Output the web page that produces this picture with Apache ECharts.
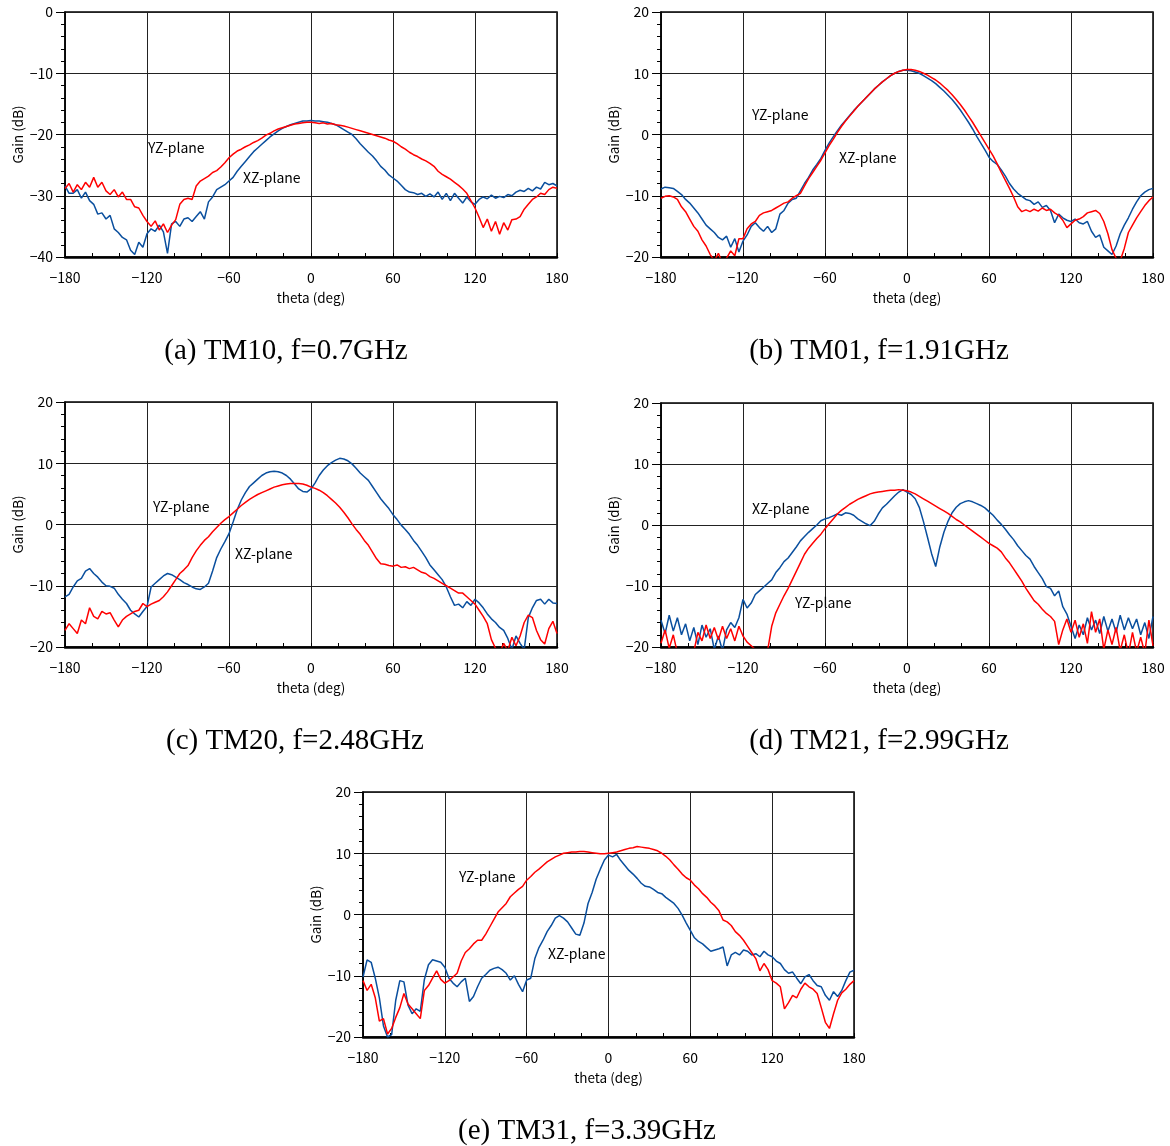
<!DOCTYPE html>
<html>
<head>
<meta charset="utf-8">
<script src="https://cdn.jsdelivr.net/npm/echarts@6/dist/echarts.min.js"></script>
<style>
html, body { margin: 0; padding: 0; background: #fff; }
#main { width: 1170px; height: 1146px; }
</style>
</head>
<body>
<div id="main"></div>
<script>
// 角度 (deg)，3度ごとに読み取り
var theta = [];
for (var t = -180; t <= 180; t += 3) theta.push(t);

// (a) TM10, f=0.7GHz
var aXZ = [
  -28.4, -29.6, -29.6, -29.0, -30.4, -29.4, -30.8, -31.4, -33.0, -32.8,
  -33.8, -33.2, -35.4, -36.0, -36.8, -37.2, -38.9, -39.6, -37.6, -38.4,
  -36.2, -35.4, -35.8, -34.8, -35.9, -39.4, -34.6, -34.2, -35.0, -33.8,
  -33.6, -34.2, -33.4, -32.6, -33.8, -31.0, -30.2, -29.0, -28.6, -28.2,
  -27.6, -27.0, -26.0, -25.2, -24.4, -23.6, -22.8, -22.2, -21.6, -21.0,
  -20.4, -19.9, -19.4, -19.0, -18.7, -18.4, -18.2, -18.0, -17.8, -17.8,
  -17.7, -17.8, -17.8, -17.9, -18.0, -18.2, -18.4, -18.8, -19.2, -19.6,
  -20.0, -20.7, -21.5, -22.2, -22.9, -23.5, -24.3, -25.2, -25.8, -26.6,
  -27.1, -27.6, -28.3, -29.0, -29.4, -29.5, -29.8, -29.6, -30.1, -29.7,
  -30.2, -29.4, -30.6, -29.6, -30.8, -29.6, -30.4, -31.2, -30.2, -31.0,
  -31.4, -30.6, -30.2, -30.5, -29.9, -30.4, -30.1, -30.3, -29.8, -30.0,
  -29.4, -29.1, -29.3, -28.8, -29.2, -28.6, -28.9, -27.8, -28.2, -28.0,
  -28.4
];
var aYZ = [
  -28.8, -28.0, -29.4, -28.2, -29.0, -27.8, -28.6, -27.0, -28.6, -27.8,
  -29.2, -29.8, -29.0, -30.2, -29.4, -30.6, -30.6, -31.8, -32.0, -33.2,
  -34.2, -35.0, -34.1, -35.6, -34.6, -36.0, -34.8, -33.9, -31.4, -30.6,
  -30.4, -30.6, -28.4, -27.6, -27.2, -26.8, -26.2, -25.9, -25.3, -24.6,
  -23.8, -23.2, -22.7, -22.4, -22.0, -21.7, -21.3, -21.0, -20.6, -20.1,
  -19.8, -19.4, -19.1, -18.9, -18.7, -18.5, -18.3, -18.2, -18.1, -18.0,
  -18.0, -18.1, -18.2, -18.1, -18.3, -18.2, -18.4, -18.5, -18.6, -18.8,
  -19.0, -19.2, -19.4, -19.6, -19.8, -20.0, -20.2, -20.4, -20.6, -20.9,
  -21.1, -21.5, -22.0, -22.4, -22.9, -23.3, -23.6, -24.0, -24.3, -24.7,
  -25.2, -26.0, -26.5, -26.9, -27.3, -27.8, -28.3, -28.9, -29.6, -30.8,
  -32.0, -33.5, -35.2, -33.8, -35.8, -34.2, -36.3, -34.4, -35.6, -33.9,
  -33.8, -33.4, -32.2, -31.4, -30.6, -30.2, -29.6, -29.8, -29.0, -28.6,
  -28.8
];

// (b) TM01, f=1.91GHz
var bXZ = [
  -8.9, -8.6, -8.7, -8.8, -9.3, -9.8, -10.6, -11.2, -12.0, -12.8,
  -13.8, -14.8, -15.4, -16.0, -16.8, -17.2, -16.6, -18.4, -17.0, -19.2,
  -17.4, -16.4, -15.0, -14.4, -15.2, -15.8, -15.0, -16.0, -15.4, -13.0,
  -12.4, -11.2, -10.6, -10.4, -9.2, -8.0, -7.0, -5.8, -4.9, -3.9,
  -2.6, -1.4, -0.4, 0.6, 1.5, 2.3, 3.1, 3.9, 4.6, 5.3,
  6.0, 6.7, 7.4, 8.0, 8.6, 9.1, 9.6, 10.0, 10.3, 10.5,
  10.5, 10.4, 10.2, 10.0, 9.6, 9.2, 8.8, 8.3, 7.7, 7.1,
  6.4, 5.7, 4.9, 4.0, 3.0, 2.0, 0.9, -0.3, -1.4, -2.5,
  -3.7, -4.4, -4.9, -5.8, -6.8, -8.0, -8.9, -9.6, -10.1, -10.6,
  -10.8, -11.4, -11.0, -11.9, -11.6, -12.4, -14.4, -13.0, -13.6, -14.0,
  -14.2, -13.8, -14.4, -14.6, -14.2, -15.8, -16.8, -16.4, -18.4, -19.0,
  -19.6, -18.2, -16.2, -14.8, -13.6, -12.2, -11.0, -10.0, -9.4, -9.0,
  -8.8
];
var bYZ = [
  -10.4, -10.1, -10.0, -10.2, -10.6, -11.8, -12.6, -13.8, -15.0, -15.8,
  -17.2, -18.2, -19.6, -20.6, -19.4, -21.0, -20.2, -19.0, -19.8, -17.0,
  -17.0, -15.4, -14.6, -14.2, -13.2, -12.8, -12.6, -12.4, -12.0, -11.6,
  -11.2, -11.0, -10.4, -10.0, -9.6, -8.4, -7.2, -6.2, -5.2, -4.2,
  -3.0, -1.8, -0.8, 0.3, 1.3, 2.2, 3.0, 3.8, 4.6, 5.3,
  6.0, 6.7, 7.4, 8.0, 8.6, 9.1, 9.6, 10.0, 10.3, 10.5,
  10.6, 10.6, 10.5, 10.3, 10.0, 9.7, 9.3, 8.9, 8.4, 7.8,
  7.2, 6.5, 5.7, 4.9, 4.0, 3.0, 2.0, 0.9, -0.2, -1.3,
  -2.4, -3.5, -4.8, -6.2, -7.5, -8.8, -10.2, -11.8, -12.6, -12.3,
  -12.6, -12.2, -12.5, -12.0, -12.4, -12.2, -12.8, -13.2, -14.0, -15.2,
  -14.6, -14.0, -13.8, -13.4, -12.8, -12.6, -12.4, -12.9, -14.2, -16.2,
  -18.8, -20.2, -20.6, -18.6, -16.0, -14.8, -13.6, -12.6, -11.6, -10.8,
  -10.2
];

// (c) TM20, f=2.48GHz
var cXZ = [
  -11.8, -11.4, -10.2, -9.2, -8.8, -7.6, -7.2, -8.0, -8.6, -9.4,
  -10.0, -10.1, -10.4, -11.4, -12.2, -12.9, -14.0, -14.6, -15.1, -14.2,
  -13.4, -10.2, -9.6, -9.0, -8.4, -8.0, -8.2, -8.6, -9.0, -9.5,
  -9.8, -10.2, -10.5, -10.6, -10.2, -9.6, -7.6, -5.4, -4.0, -2.8,
  -1.5, 0.4, 2.4, 4.0, 5.2, 6.2, 6.8, 7.4, 8.0, 8.4,
  8.6, 8.7, 8.6, 8.4, 8.0, 7.4, 6.6, 5.8, 5.4, 5.3,
  5.8, 6.8, 8.0, 8.9, 9.6, 10.1, 10.5, 10.8, 10.7, 10.4,
  9.9, 9.2, 8.4, 7.8, 7.2, 6.2, 5.2, 4.2, 3.4, 2.6,
  1.6, 0.8, -0.1, -0.8, -1.6, -2.6, -3.4, -4.4, -5.4, -6.6,
  -7.4, -8.2, -9.0, -10.2, -11.8, -13.2, -13.0, -13.6, -12.6, -13.2,
  -12.2, -12.8, -13.6, -14.6, -15.4, -16.0, -16.8, -17.3, -18.6, -20.4,
  -18.2, -19.4, -20.4, -15.2, -13.6, -12.4, -12.2, -13.0, -12.2, -12.8,
  -12.9
];
var cYZ = [
  -17.3, -16.2, -17.0, -17.8, -15.6, -16.2, -13.6, -15.0, -15.4, -14.2,
  -14.6, -14.4, -15.6, -16.7, -15.6, -15.0, -14.6, -14.2, -14.0, -12.9,
  -13.4, -13.0, -12.7, -12.4, -11.8, -11.0, -10.0, -9.0, -8.0, -7.4,
  -6.7, -5.4, -4.3, -3.4, -2.6, -2.0, -1.2, -0.5, 0.2, 0.8,
  1.3, 1.9, 2.5, 3.1, 3.6, 4.1, 4.5, 4.9, 5.2, 5.5,
  5.8, 6.1, 6.3, 6.5, 6.6, 6.7, 6.7, 6.7, 6.6, 6.4,
  6.1, 5.9, 5.6, 5.2, 4.7, 4.1, 3.5, 2.8, 2.0, 1.1,
  0.1, -0.8, -1.6, -2.6, -3.4, -4.5, -5.6, -6.4, -6.5, -6.7,
  -6.8, -6.6, -7.0, -6.9, -7.2, -7.0, -7.4, -7.8, -8.0, -8.5,
  -8.8, -9.2, -9.6, -10.0, -10.4, -10.8, -11.2, -11.2, -11.8, -12.4,
  -13.0, -14.0, -15.0, -16.2, -18.8, -20.2, -21.0, -19.4, -20.6, -18.4,
  -19.8, -18.2, -16.0, -14.8, -15.2, -17.3, -18.8, -19.5, -17.0, -15.8,
  -17.8
];

// (d) TM21, f=2.99GHz
var dXZ = [
  -15.6, -17.8, -14.8, -17.4, -15.2, -18.0, -16.2, -19.0, -16.8, -19.6,
  -16.4, -18.4, -17.0, -20.4, -18.2, -20.6, -17.2, -16.0, -16.8, -15.2,
  -12.2, -13.6, -12.8, -11.4, -10.8, -10.2, -9.6, -9.0, -7.8, -7.0,
  -6.0, -5.4, -4.5, -3.6, -2.6, -1.9, -1.2, -0.6, 0.0, 0.7,
  1.0, 1.2, 1.5, 1.8, 1.6, 2.0, 1.9, 1.6, 1.0, 0.6,
  0.2, -0.1, 0.6, 1.8, 2.8, 3.4, 4.1, 4.8, 5.4, 5.8,
  5.4, 5.0, 4.3, 2.9, 0.6, -2.0, -4.7, -6.8, -3.6, -1.2,
  0.6, 2.0, 2.9, 3.5, 3.8, 4.0, 3.8, 3.5, 3.2, 2.8,
  2.2, 1.6, 0.8, 0.1, -0.7, -1.6, -2.4, -3.4, -4.2, -5.0,
  -5.6, -6.8, -7.8, -8.8, -10.1, -10.4, -11.6, -10.8, -13.4, -14.6,
  -16.6, -18.6, -16.4, -18.0, -15.2, -17.2, -15.6, -17.8, -15.0, -17.4,
  -15.4, -17.6, -14.8, -17.2, -15.2, -17.0, -15.4, -18.0, -16.0, -18.6,
  -15.0
];
var dYZ = [
  -19.4, -17.2, -20.2, -18.0, -21.0, -21.5, -21.0, -21.4, -20.8, -17.6,
  -19.0, -16.4, -18.6, -16.8, -18.8, -16.6, -18.6, -17.0, -19.0, -16.6,
  -18.2, -19.2, -19.8, -20.4, -21.2, -21.0, -20.6, -16.6, -14.4, -13.0,
  -11.6, -10.4, -9.0, -7.6, -6.2, -4.8, -3.8, -3.0, -2.2, -1.5,
  -0.6, 0.2, 1.0, 1.8, 2.4, 2.9, 3.4, 3.8, 4.2, 4.5,
  4.8, 5.1, 5.3, 5.4, 5.5, 5.6, 5.7, 5.7, 5.8, 5.7,
  5.6, 5.4, 5.1, 4.7, 4.3, 3.9, 3.5, 3.1, 2.7, 2.3,
  1.9, 1.4, 0.9, 0.5, 0.0, -0.5, -1.0, -1.5, -2.0, -2.5,
  -3.0, -3.4, -3.8, -4.4, -5.4, -6.2, -7.2, -8.2, -9.2, -10.4,
  -11.4, -12.4, -13.0, -13.8, -14.5, -15.0, -15.8, -19.6, -17.2, -15.4,
  -17.6, -15.6, -18.4, -16.2, -19.4, -14.2, -17.6, -15.4, -20.4, -17.2,
  -19.6, -16.8, -20.6, -18.0, -21.2, -17.6, -20.8, -18.4, -21.0, -15.6,
  -19.8
];

// (e) TM31, f=3.39GHz
var eXZ = [
  -10.2, -7.4, -7.8, -10.4, -13.6, -18.2, -20.0, -19.6, -14.0, -10.8,
  -11.0, -14.8, -16.2, -15.4, -15.8, -10.6, -8.2, -7.4, -7.6, -7.8,
  -8.6, -10.4, -11.2, -11.8, -11.0, -10.4, -14.2, -13.4, -11.8, -10.4,
  -9.8, -9.1, -8.8, -8.6, -9.0, -9.6, -10.7, -10.0, -11.4, -12.6,
  -10.7, -10.4, -7.2, -5.4, -4.2, -2.8, -1.8, -0.6, -0.2, -0.6,
  -1.2, -2.2, -3.2, -3.4, -1.4, 1.8, 3.6, 5.8, 7.4, 8.9,
  9.7, 9.4, 9.8, 8.8, 8.0, 7.2, 6.6, 5.9, 5.1, 4.6,
  4.5, 4.1, 3.6, 3.4, 2.8, 2.3, 1.8, 1.0, -0.1, -1.4,
  -2.6, -3.8, -4.4, -4.8, -5.4, -6.0, -5.8, -5.6, -5.3, -8.4,
  -6.6, -6.2, -6.6, -5.8, -6.0, -6.6, -6.4, -6.9, -6.0, -6.6,
  -6.9, -7.6, -8.0, -9.0, -9.6, -9.4, -10.4, -11.3, -10.2, -9.8,
  -10.8, -11.6, -11.8, -13.2, -14.0, -12.6, -13.4, -12.4, -10.8, -9.4,
  -9.1
];
var eYZ = [
  -10.8, -12.4, -11.4, -13.6, -17.4, -17.0, -19.5, -18.6, -16.8, -15.2,
  -12.9, -14.6, -15.4, -16.2, -17.0, -12.4, -11.6, -10.4, -9.2, -10.6,
  -11.2, -10.8, -10.2, -9.6, -7.6, -6.2, -5.6, -4.8, -4.2, -4.2,
  -3.2, -2.0, -0.8, 0.4, 1.1, 1.8, 2.9, 3.5, 4.1, 4.6,
  5.6, 6.2, 6.9, 7.4, 8.0, 8.6, 9.0, 9.4, 9.7, 10.0,
  10.1, 10.2, 10.2, 10.3, 10.3, 10.2, 10.1, 10.0, 9.9, 9.9,
  10.0, 10.1, 10.2, 10.4, 10.6, 10.8, 10.9, 11.1, 11.0, 10.9,
  10.8, 10.6, 10.4, 10.0, 9.5, 8.9, 8.1, 7.4, 6.6, 6.0,
  5.6, 4.8, 4.2, 3.4, 2.8, 2.0, 1.4, 0.6, -0.9, -1.2,
  -1.8, -2.8, -3.4, -4.2, -5.2, -6.2, -7.2, -9.2, -8.0, -9.0,
  -10.8, -11.2, -11.8, -15.4, -14.4, -13.2, -13.6, -12.2, -11.2, -11.8,
  -12.2, -12.9, -15.2, -17.6, -18.6, -16.2, -14.0, -12.8, -12.2, -11.4,
  -10.8
];

var captions = ['(a) TM10, f=0.7GHz', '(b) TM01, f=1.91GHz', '(c) TM20, f=2.48GHz',
                '(d) TM21, f=2.99GHz', '(e) TM31, f=3.39GHz'];
var yMin = [-40, -20, -20, -20, -20];
var yMax = [0, 20, 20, 20, 20];
var xzList = [aXZ, bXZ, cXZ, dXZ, eXZ];
var yzList = [aYZ, bYZ, cYZ, dYZ, eYZ];

// 各グラフの配置 [left, top, width, height]
var boxes = [
    [65, 12, 492, 245],
    [661, 12, 492, 245],
    [65, 402, 492, 245],
    [661, 403, 492, 244],
    [363, 792, 491, 245]
];
// 注記の位置 [XZ x, XZ y, YZ x, YZ y]
var notes = [
    [243, 178, 148, 148],
    [839, 158, 752, 115],
    [235, 554, 153, 507],
    [752, 509, 795, 603],
    [548, 954, 459, 877]
];
var captionPos = [[286, 351], [879, 351], [295, 741], [879, 741], [587, 1131]];

var jpFont = '"Noto Sans CJK JP", "Noto Sans", sans-serif';
function minus(v) { return String(v).replace('-', '\u2212'); }

var myChart = echarts.init(document.getElementById('main'));

var grids = [], xAxes = [], yAxes = [], series = [], graphics = [];
for (var k = 0; k < 5; k++) {
    var b = boxes[k];
    grids.push({
        left: b[0], top: b[1], width: b[2], height: b[3],
        show: true, borderColor: '#000', borderWidth: 1.5, backgroundColor: '#fff'
    });
    xAxes.push({
        gridIndex: k, type: 'value', min: -180, max: 180, interval: 60,
        name: 'theta (deg)', nameLocation: 'middle', nameGap: 34,
        nameTextStyle: { color: '#000', fontSize: 13.5, fontFamily: jpFont },
        axisLine: { show: true, onZero: false, lineStyle: { color: '#000', width: 2.5 } },
        axisTick: { show: true, inside: true, length: 4, lineStyle: { color: '#000' } },
        minorTick: { show: true, splitNumber: 3, length: 4, lineStyle: { color: '#000' } },
        axisLabel: { color: '#000', fontSize: 14, margin: 14, fontFamily: jpFont, formatter: minus },
        splitLine: { show: true, lineStyle: { color: '#222', width: 1 } }
    });
    yAxes.push({
        gridIndex: k, type: 'value', min: yMin[k], max: yMax[k], interval: 10,
        name: 'Gain (dB)', nameLocation: 'middle', nameGap: 40, nameRotate: 90,
        nameTextStyle: { color: '#000', fontSize: 13.5, fontFamily: jpFont },
        axisLine: { show: true, onZero: false, lineStyle: { color: '#000', width: 1.5 } },
        axisTick: { show: true, length: 9, lineStyle: { color: '#000' } },
        minorTick: { show: true, splitNumber: 5, length: 4, lineStyle: { color: '#000' } },
        axisLabel: { color: '#000', fontSize: 14, margin: 12, fontFamily: jpFont, formatter: minus },
        splitLine: { show: true, lineStyle: { color: '#222', width: 1 } }
    });
    var xz = [], yz = [];
    for (var i = 0; i < theta.length; i++) {
        xz.push([theta[i], xzList[k][i]]);
        yz.push([theta[i], yzList[k][i]]);
    }
    series.push({
        name: 'XZ-plane', type: 'line', xAxisIndex: k, yAxisIndex: k,
        data: xz, symbol: 'none', clip: true,
        lineStyle: { color: '#0a4f9e', width: 1.5 }
    });
    series.push({
        name: 'YZ-plane', type: 'line', xAxisIndex: k, yAxisIndex: k,
        data: yz, symbol: 'none', clip: true,
        lineStyle: { color: '#ff0000', width: 1.5 }
    });
    var n = notes[k];
    graphics.push({
        type: 'text', x: n[0], y: n[1], z: 100,
        style: { text: 'XZ-plane', fill: '#000', font: '14px ' + jpFont, align: 'left', verticalAlign: 'middle' }
    });
    graphics.push({
        type: 'text', x: n[2], y: n[3], z: 100,
        style: { text: 'YZ-plane', fill: '#000', font: '14px ' + jpFont, align: 'left', verticalAlign: 'middle' }
    });
    graphics.push({
        type: 'text', x: captionPos[k][0], y: captionPos[k][1], z: 100,
        style: { text: captions[k], fill: '#000', font: '29px "Liberation Serif", "Times New Roman", serif',
                 align: 'center', verticalAlign: 'middle' }
    });
}

var option = {
    animation: false,
    backgroundColor: '#fff',
    grid: grids,
    xAxis: xAxes,
    yAxis: yAxes,
    series: series,
    graphic: graphics
};
myChart.setOption(option);
</script>
</body>
</html>
